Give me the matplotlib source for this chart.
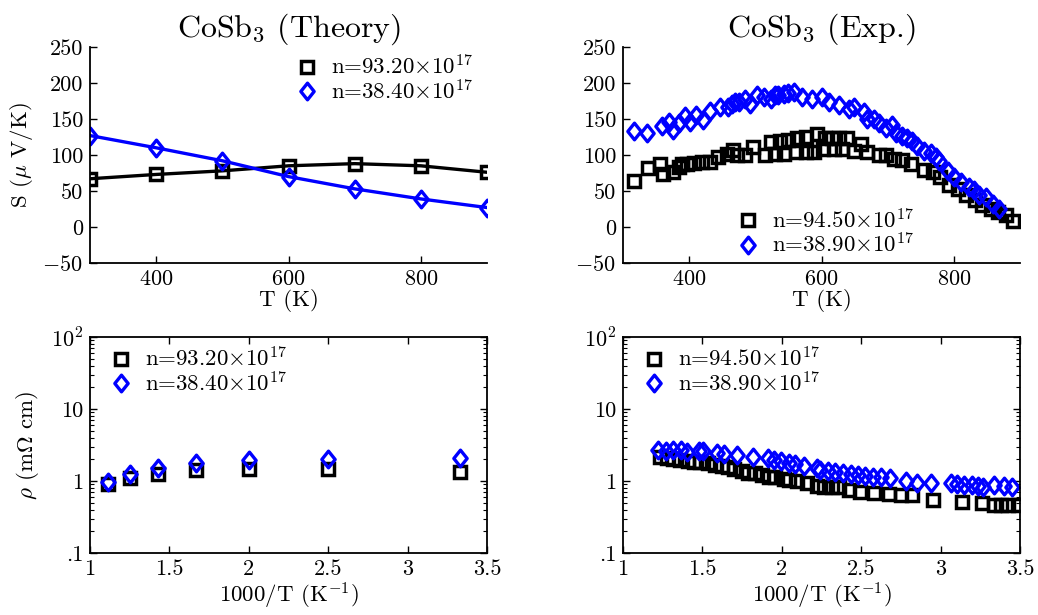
import numpy as np
import matplotlib
matplotlib.use("Agg")
import matplotlib.pyplot as plt
from matplotlib.path import Path
from matplotlib.lines import Line2D
from matplotlib.ticker import FixedLocator, NullFormatter, LogLocator

plt.rcParams['font.family'] = ['cmr10', 'DejaVu Serif']
plt.rcParams['mathtext.fontset'] = 'cm'
plt.rcParams['axes.formatter.use_mathtext'] = True
plt.rcParams['axes.unicode_minus'] = False

# ---------------- data ----------------
T_theory = [300, 400, 500, 600, 700, 800, 900]
S_theory_hi = [67, 73, 78, 85, 88, 85, 76]
S_theory_lo = [127, 110, 92, 70, 53, 39, 27]

invT_theory = [1.111, 1.25, 1.4286, 1.667, 2.0, 2.5, 3.333]
rho_theory_hi = [0.90, 1.09, 1.25, 1.42, 1.45, 1.45, 1.35]
rho_theory_lo = [0.98, 1.24, 1.50, 1.76, 1.96, 2.02, 2.10]

T_exp_hi = [316, 338, 356, 361, 376, 384, 389, 396, 407, 419, 431, 444, 457, 467,
            472, 485, 496, 515, 523, 530, 537, 543, 550, 561, 563, 576, 576, 588,
            593, 603, 605, 616, 619, 626, 631, 638, 649, 659, 669, 687, 697, 710,
            722, 735, 755, 768, 779, 793, 806, 818, 832, 843, 856, 866, 879, 890]
S_exp_hi = [64, 82, 87, 73, 77, 84, 87, 87, 89, 90, 90, 97, 102, 107,
            100, 100, 111, 100, 118, 101, 119, 101, 121, 104, 124, 125, 104, 104,
            129, 109, 124, 124, 109, 124, 109, 124, 106, 115, 104, 100, 100, 95,
            93, 88, 79, 77, 70, 59, 53, 45, 38, 31, 25, 21, 17, 9]

T_exp_lo = [316, 337, 359, 369, 376, 385, 394, 402, 410, 421, 431, 446, 459, 464,
            469, 475, 485, 492, 502, 513, 524, 529, 535, 543, 550, 558, 571, 586,
            601, 611, 626, 641, 649, 664, 669, 679, 687, 698, 707, 712, 722, 729,
            737, 745, 755, 765, 773, 778, 791, 800, 811, 823, 831, 838, 848, 859, 869]
S_exp_lo = [134, 130, 140, 146, 135, 144, 154, 146, 156, 148, 161, 167, 167, 171,
            174, 174, 178, 171, 184, 181, 178, 183, 184, 185, 186, 187, 180, 178,
            180, 174, 169, 164, 167, 160, 150, 150, 144, 138, 141, 131, 127, 123,
            120, 112, 106, 103, 97, 92, 78, 69, 62, 56, 51, 45, 41, 32, 25]

invT_exp_hi = [1.233, 1.275, 1.317, 1.359, 1.412, 1.447, 1.485, 1.538, 1.58, 1.622,
               1.664, 1.696, 1.748, 1.79, 1.832, 1.875, 1.917, 1.959, 2.012, 2.043,
               2.096, 2.159, 2.222, 2.268, 2.317, 2.359, 2.422, 2.492, 2.58, 2.675,
               2.748, 2.822, 2.955, 3.132, 3.258, 3.338, 3.38, 3.422, 3.485]
rho_exp_hi = [2.13, 2.06, 2.0, 1.96, 1.92, 1.85, 1.85, 1.80, 1.67, 1.62,
              1.58, 1.45, 1.39, 1.31, 1.28, 1.21, 1.15, 1.12, 1.07, 1.03,
              1.0, 0.93, 0.85, 0.83, 0.82, 0.82, 0.75, 0.70, 0.69, 0.65,
              0.64, 0.64, 0.54, 0.51, 0.49, 0.47, 0.47, 0.46, 0.46]

invT_exp_lo = [1.222, 1.27, 1.313, 1.364, 1.405, 1.481, 1.506, 1.59, 1.633, 1.717,
               1.818, 1.911, 1.953, 1.997, 2.043, 2.085, 2.142, 2.222, 2.243, 2.289,
               2.338, 2.386, 2.433, 2.48, 2.527, 2.576, 2.622, 2.681, 2.78, 2.854,
               2.942, 3.064, 3.106, 3.148, 3.195, 3.233, 3.264, 3.338, 3.397, 3.447]
rho_exp_lo = [2.7, 2.63, 2.7, 2.7, 2.55, 2.63, 2.63, 2.47, 2.37, 2.27,
              2.18, 2.06, 1.96, 1.90, 1.80, 1.70, 1.62, 1.50, 1.42, 1.39,
              1.35, 1.31, 1.25, 1.21, 1.17, 1.15, 1.12, 1.09, 1.01, 0.95,
              0.93, 0.93, 0.91, 0.88, 0.88, 0.85, 0.83, 0.88, 0.85, 0.83]

lab_th_hi = r'n=93.20$\times10^{17}$'
lab_th_lo = r'n=38.40$\times10^{17}$'
lab_ex_hi = r'n=94.50$\times10^{17}$'
lab_ex_lo = r'n=38.90$\times10^{17}$'

S_ticks = [-50, 0, 50, 100, 150, 200, 250]
S_ticklabels = [r'$-50$', '0', '50', '100', '150', '200', '250']
T_ticks = [400, 600, 800]
x_ticks = [1, 1.5, 2, 2.5, 3, 3.5]
x_ticklabels = ['1', '1.5', '2', '2.5', '3', '3.5']
rho_ticks = [0.1, 1, 10, 100]
rho_ticklabels = ['.1', '1', '10', r'$10^2$']

# ---------------- styling ----------------
diamond = Path([(0, 1), (0.8, 0), (0, -1), (-0.8, 0), (0, 1)],
               [Path.MOVETO, Path.LINETO, Path.LINETO, Path.LINETO, Path.CLOSEPOLY])
FS = 16
LFS = 16.5
sq = dict(marker='s', ms=8, mfc='none', mec='k', mew=2.5)
dm = dict(marker=diamond, ms=12, mfc='none', mec='b', mew=2.4)

def handles():
    return [Line2D([], [], ls='none', **sq), Line2D([], [], ls='none', **dm)]

legkw = dict(frameon=False, fontsize=LFS, handlelength=1.0, handletextpad=0.55,
             labelspacing=0.02, borderaxespad=0.2)

fig = plt.figure(figsize=(10.38, 6.15), dpi=100)
W, H = 1038, 615
def pos(x0, x1, y0, y1):
    return [x0 / W, 1 - y1 / H, (x1 - x0) / W, (y1 - y0) / H]

ax1 = fig.add_axes(pos(90, 487, 47, 263))
ax2 = fig.add_axes(pos(623, 1020, 47, 263))
ax3 = fig.add_axes(pos(90, 487, 337, 553))
ax4 = fig.add_axes(pos(623, 1020, 337, 553))

for ax in (ax1, ax2, ax3, ax4):
    ax.tick_params(direction='in', labelsize=FS, length=5, width=1, pad=5)
    ax.tick_params(which='minor', direction='in', length=3, width=0.8)
    for s in ax.spines.values():
        s.set_linewidth(1.3)

# Top row: Seebeck
for ax in (ax1, ax2):
    ax.spines['top'].set_visible(False)
    ax.spines['right'].set_visible(False)
    ax.set_xlim(300, 900)
    ax.set_ylim(-50, 250)
    ax.set_xticks(T_ticks)
    ax.set_yticks(S_ticks)
    ax.set_yticklabels(S_ticklabels)
    ax.set_xlabel('T (K)', fontsize=LFS, labelpad=0)

ax1.plot(T_theory, S_theory_hi, color='k', lw=2.4, **sq)
ax1.plot(T_theory, S_theory_lo, color='b', lw=2.4, **dm)
ax1.set_ylabel(r'S ($\mu$ V/K)', fontsize=LFS, labelpad=5)
ax1.set_title(r'CoSb$_3$ (Theory)', fontsize=23, pad=7)
ax1.legend(handles(), [lab_th_hi, lab_th_lo], loc='upper right',
           bbox_to_anchor=(1.0, 1.03), **legkw)

ax2.plot(T_exp_hi, S_exp_hi, ls='none', **sq)
ax2.plot(T_exp_lo, S_exp_lo, ls='none', **dm)
ax2.set_title(r'CoSb$_3$ (Exp.)', fontsize=23, pad=7)
ax2.legend(handles(), [lab_ex_hi, lab_ex_lo], loc='lower center',
           bbox_to_anchor=(0.51, -0.035), **legkw)

# Bottom row: resistivity
for ax in (ax3, ax4):
    ax.set_yscale('log')
    ax.set_xlim(1, 3.5)
    ax.set_ylim(0.1, 100)
    ax.set_xticks(x_ticks)
    ax.set_xticklabels(x_ticklabels)
    ax.yaxis.set_major_locator(FixedLocator(rho_ticks))
    ax.set_yticklabels(rho_ticklabels)
    ax.yaxis.set_minor_locator(LogLocator(base=10, subs=np.arange(2, 10)))
    ax.yaxis.set_minor_formatter(NullFormatter())
    ax.tick_params(which='both', top=True, right=True)
    ax.set_xlabel(r'1000/T (K$^{-1}$)', fontsize=LFS, labelpad=1)

ax3.plot(invT_theory, rho_theory_hi, ls='none', **sq)
ax3.plot(invT_theory, rho_theory_lo, ls='none', **dm)
ax3.set_ylabel(r'$\rho$ (m$\Omega$ cm)', fontsize=LFS, labelpad=7)
ax3.legend(handles(), [lab_th_hi, lab_th_lo], loc='upper left',
           bbox_to_anchor=(0.015, 1.02), **legkw)

ax4.plot(invT_exp_hi, rho_exp_hi, ls='none', **sq)
ax4.plot(invT_exp_lo, rho_exp_lo, ls='none', **dm)
ax4.legend(handles(), [lab_ex_hi, lab_ex_lo], loc='upper left',
           bbox_to_anchor=(0.015, 1.02), **legkw)

fig.savefig('out.png', dpi=100)
